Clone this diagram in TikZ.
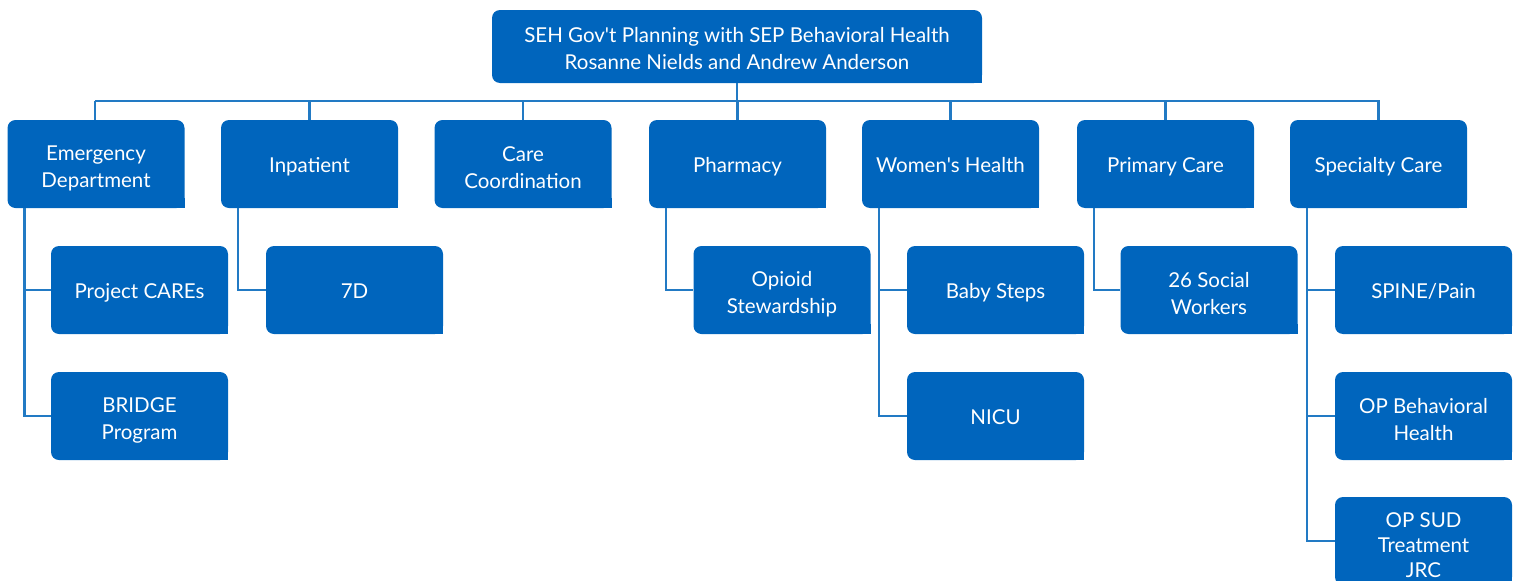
\documentclass[tikz,border=0pt]{standalone}
\usepackage{fontspec}
\setmainfont{Lato}[Ligatures=TeXOff]
\definecolor{boxblue}{RGB}{0,101,189}
\definecolor{lineblue}{RGB}{34,122,196}
\begin{document}
\begin{tikzpicture}[x=1pt,y=-1pt,
  box/.style={fill=boxblue, text=white, rounded corners=8pt, minimum width=177pt, minimum height=88pt,
    align=center, inner sep=0pt, font=\fontsize{20.5}{27}\selectfont,
    execute at begin node={\rule{0pt}{21pt}}, execute at end node={\rule[-4.5pt]{0pt}{4.5pt}}},
  txt/.style={text=white, align=center, inner sep=0pt, font=\fontsize{20.5}{27}\selectfont},
  conn/.style={draw=lineblue, line width=2.5pt}]
\useasboundingbox (0,0) rectangle (1519,581);
\node[box, minimum width=490pt, minimum height=73pt] (top) at (737,46.5) {};
\node[txt, yshift=-2.5pt] (ttop) at (top.center) {SEH Gov't Planning with SEP Behavioral Health\\Rosanne Nields and Andrew Anderson};
\node[box] (ed) at (96,164) {};
\node[txt, yshift=-4pt] (ted) at (ed.center) {Emergency\\Department};
\node[box] (inp) at (309.5,164) {Inpatient};
\node[box] (cc) at (523,164) {};
\node[txt, yshift=-4pt] (tcc) at (cc.center) {Care\\Coordination};
\node[box] (ph) at (737.5,164) {Pharmacy};
\node[box] (wh) at (950.5,164) {Women's Health};
\node[box] (pc) at (1165.5,164) {Primary Care};
\node[box] (sc) at (1378.5,164) {Specialty Care};
\node[box] (care) at (139.5,290) {Project CAREs};
\node[box] (bridge) at (139.5,416) {};
\node[txt, yshift=-4pt] (tbridge) at (bridge.center) {BRIDGE\\Program};
\node[box] (sevd) at (354.5,290) {7D};
\node[box] (opioid) at (782,290) {};
\node[txt, yshift=-4pt] (topioid) at (opioid.center) {Opioid\\Stewardship};
\node[box] (baby) at (995.5,290) {Baby Steps};
\node[box] (nicu) at (995.5,416) {NICU};
\node[box] (social) at (1209,290) {};
\node[txt, yshift=-4pt] (tsocial) at (social.center) {26 Social\\Workers};
\node[box] (spine) at (1423.5,290) {SPINE/Pain};
\node[box] (opbh) at (1423.5,416) {};
\node[txt, yshift=-4pt] (topbh) at (opbh.center) {OP Behavioral\\Health};
\node[box] (opsud) at (1423.5,541) {};
\node[txt, yshift=-4pt, font=\fontsize{20.5}{25}\selectfont] (topsud) at (opsud.center) {OP SUD\\Treatment\\JRC};
\foreach \n in {top,ed,inp,cc,ph,wh,pc,sc,care,bridge,sevd,opioid,baby,nicu,social,spine,opbh,opsud}
  \fill[boxblue] (\n.south east) rectangle ([xshift=-10pt,yshift=10pt]\n.south east);
\coordinate (busL) at (95,101);
\coordinate (busR) at (1380,101);
\path[conn] (top.south) -- (top.south |- busL);
\path[conn] (busL) -- (busR);
\foreach \n in {inp,cc,ph,wh,pc,sc}
  \path[conn] (\n.north) -- (\n.north |- busL);
\path[conn] (busL) -- (ed.north -| busL);
\path[conn] ([xshift=17pt]ed.south west) |- (bridge.west);
\path[conn] ([xshift=17pt]ed.south west |- care.west) -- (care.west);
\path[conn] ([xshift=17pt]inp.south west) |- (sevd.west);
\path[conn] ([xshift=17pt]ph.south west) |- (opioid.west);
\path[conn] ([xshift=17pt]wh.south west) |- (nicu.west);
\path[conn] ([xshift=17pt]wh.south west |- baby.west) -- (baby.west);
\path[conn] ([xshift=17pt]pc.south west) |- (social.west);
\path[conn] ([xshift=17pt]sc.south west) |- (opsud.west);
\path[conn] ([xshift=17pt]sc.south west |- spine.west) -- (spine.west);
\path[conn] ([xshift=17pt]sc.south west |- opbh.west) -- (opbh.west);
\end{tikzpicture}
\end{document}
